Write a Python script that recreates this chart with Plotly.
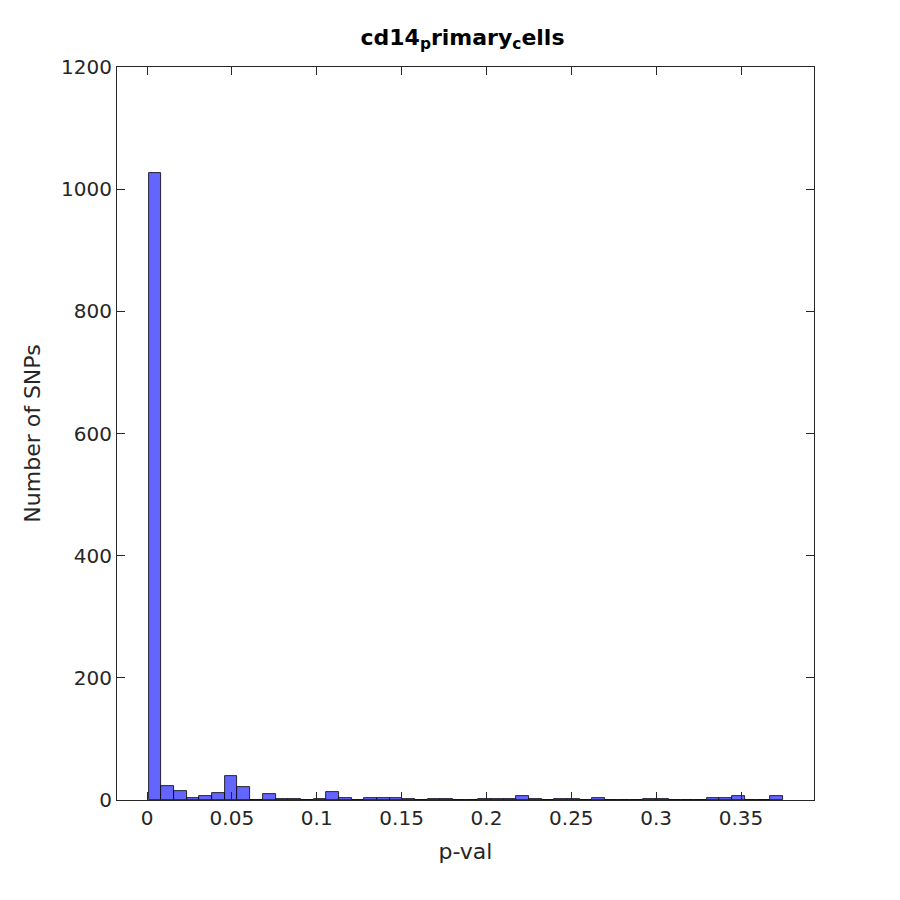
import plotly.graph_objects as go

bin_start = 0.001
bin_width = 0.00747
counts = [1027, 23, 14, 4, 6, 12, 39, 21, 0, 10,
          1, 1, 0, 1, 13, 3, 0, 3, 3, 3,
          1, 0, 1, 1, 0, 0, 1, 1, 2, 6,
          2, 0, 1, 1, 0, 3, 0, 0, 0, 1,
          1, 0, 0, 0, 3, 3, 6, 0, 0, 6]
centers = [bin_start + bin_width * (i + 0.5) for i in range(len(counts))]

x_ticks = [0, 0.05, 0.1, 0.15, 0.2, 0.25, 0.3, 0.35]
x_tick_labels = ["0", "0.05", "0.1", "0.15", "0.2", "0.25", "0.3", "0.35"]
y_ticks = [0, 200, 400, 600, 800, 1000, 1200]

font = "DejaVu Sans"

fig = go.Figure(go.Bar(
    x=centers, y=counts, width=[bin_width] * len(counts),
    marker=dict(color="rgb(100,100,255)", line=dict(color="black", width=0.8)),
))

axis_common = dict(showline=True, linecolor="#262626", linewidth=1, mirror="ticks",
                   ticks="inside", ticklen=8, tickcolor="#262626", showgrid=False,
                   zeroline=False, tickfont=dict(family=font, size=20, color="#262626"))

fig.update_layout(
    width=900, height=900,
    paper_bgcolor="white", plot_bgcolor="white",
    margin=dict(l=109, r=94, t=59, b=108),
    showlegend=False,
    bargap=0,
    title=dict(text="<b>cd14<sub>p</sub>rimary<sub>c</sub>ells</b>", x=0.505, xanchor="center",
               y=0.968, yanchor="middle",
               font=dict(family=font, size=22, color="black")),
    xaxis=dict(range=[-0.0177, 0.393], tickvals=x_ticks, ticktext=x_tick_labels,
               title=dict(text="p-val", font=dict(family=font, size=22, color="#262626"), standoff=14),
               **axis_common),
    yaxis=dict(range=[0, 1200], tickvals=y_ticks,
               title=dict(text="Number of SNPs", font=dict(family=font, size=22, color="#262626"), standoff=14),
               **axis_common),
)

fig.write_html("out.html")
